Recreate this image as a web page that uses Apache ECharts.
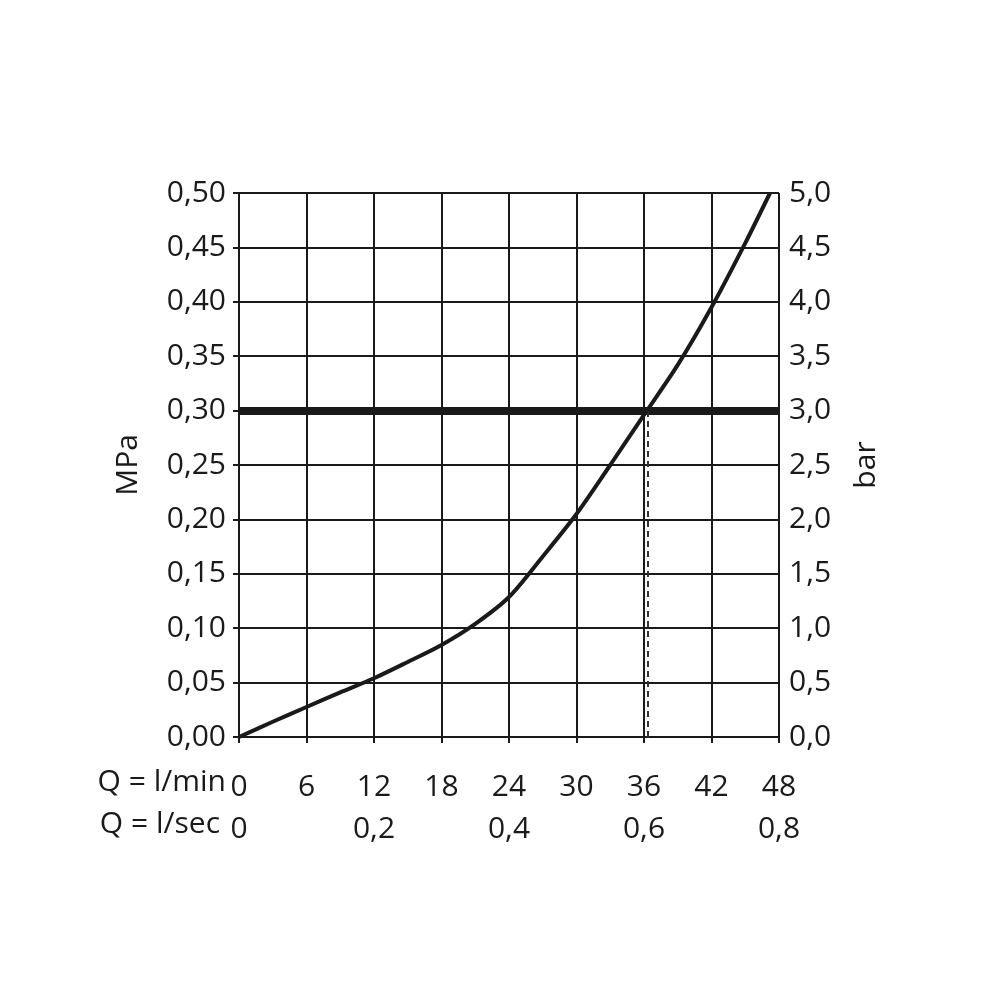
<!DOCTYPE html>
<html><head><meta charset="utf-8">
<script src="https://cdn.jsdelivr.net/npm/echarts@6/dist/echarts.min.js"></script>
<style>html,body{margin:0;padding:0;background:#fff}#c{width:1000px;height:1000px}</style>
</head><body><div id="c"></div>
<script>
// Flow (l/min) vs pressure (MPa)
const flowLpm = [0, 3, 6, 9, 12, 15, 18, 21, 24, 27, 30, 33, 36, 39, 42, 45, 47.2];
const pressureMPa = [0, 0.014, 0.0276, 0.041, 0.054, 0.069, 0.0846, 0.104, 0.1287, 0.166, 0.205, 0.25, 0.296, 0.342, 0.395, 0.454, 0.50];
const refPressure = 0.30;
const refFlow = 36.3;
const xTicksMin = [0, 6, 12, 18, 24, 30, 36, 42, 48];
const xTicksSec = [0, 0.2, 0.4, 0.6, 0.8];
const leftName = 'MPa', rightName = 'bar';
const rowLabelMin = 'Q = l/min', rowLabelSec = 'Q = l/sec';

const FONT = 'Open Sans';
const FS = 30;
const INK = '#1a1a1a';
const txt = {fontFamily: FONT, fontSize: FS, color: INK};

const chart = echarts.init(document.getElementById('c'));
chart.setOption({
  animation: false,
  backgroundColor: '#fff',
  grid: {left: 239, right: 221, top: 193, bottom: 263, containLabel: false},
  xAxis: [{
    type: 'value', min: 0, max: 48, interval: 6, position: 'bottom',
    axisLine: {show: true, lineStyle: {color: INK, width: 2}},
    axisTick: {show: true, length: 6, lineStyle: {color: INK, width: 2}},
    axisLabel: Object.assign({margin: 35, formatter: v => String(v)}, txt),
    splitLine: {show: true, lineStyle: {color: INK, width: 2}}
  }, {
    type: 'value', min: 0, max: 0.8, interval: 0.2, position: 'bottom', offset: 42,
    axisLine: {show: false}, axisTick: {show: false},
    axisLabel: Object.assign({margin: 35, formatter: v => (v === 0 ? '0' : v.toFixed(1).replace('.', ','))}, txt),
    splitLine: {show: false}
  }],
  yAxis: [{
    type: 'value', min: 0, max: 0.5, interval: 0.05, position: 'left',
    name: leftName, nameLocation: 'middle', nameGap: 96, nameRotate: 90,
    nameTextStyle: txt,
    axisLine: {show: true, lineStyle: {color: INK, width: 2}},
    axisTick: {show: true, length: 6, lineStyle: {color: INK, width: 2}},
    axisLabel: Object.assign({margin: 13, formatter: v => v.toFixed(2).replace('.', ',')}, txt),
    splitLine: {show: true, lineStyle: {color: INK, width: 2}}
  }, {
    type: 'value', min: 0, max: 5, interval: 0.5, position: 'right',
    name: rightName, nameLocation: 'middle', nameGap: 72, nameRotate: 90,
    nameTextStyle: txt,
    axisLine: {show: true, lineStyle: {color: INK, width: 2}},
    axisTick: {show: true, length: 6, lineStyle: {color: INK, width: 2}},
    axisLabel: Object.assign({margin: 10, formatter: v => v.toFixed(1).replace('.', ',')}, txt),
    splitLine: {show: false}
  }],
  graphic: [
    {type: 'text', right: 1000 - 226, top: 767, style: {text: rowLabelMin, font: FS + 'px "' + FONT + '"', fill: INK}},
    {type: 'text', right: 1000 - 220, top: 809, style: {text: rowLabelSec, font: FS + 'px "' + FONT + '"', fill: INK}}
  ],
  series: [{
    type: 'line', xAxisIndex: 0, yAxisIndex: 0,
    data: flowLpm.map((x, i) => [x, pressureMPa[i]]),
    smooth: 0.3, showSymbol: false, symbol: 'none',
    lineStyle: {color: INK, width: 4},
    z: 5,
    markLine: {
      silent: true, symbol: 'none', label: {show: false},
      data: [
        {yAxis: refPressure, lineStyle: {color: INK, width: 8, type: 'solid'}},
        [{coord: [refFlow, 0], lineStyle: {color: '#333', width: 2, type: [6, 4]}}, {coord: [refFlow, refPressure]}]
      ]
    }
  }]
});
</script></body></html>
